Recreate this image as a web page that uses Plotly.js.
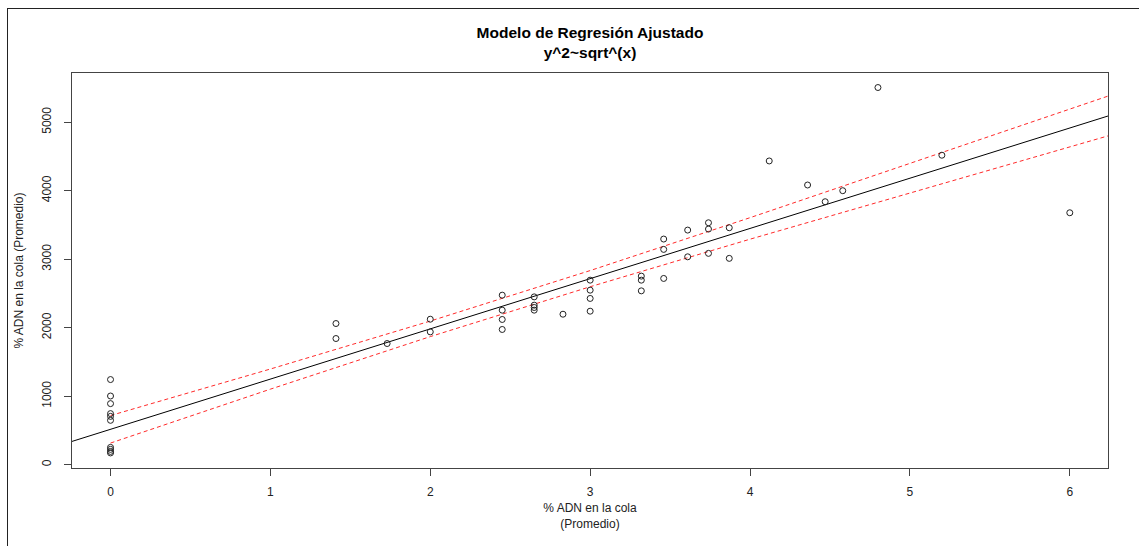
<!DOCTYPE html>
<html>
<head>
<meta charset="utf-8">
<script src="https://cdn.plot.ly/plotly-3.0.1.min.js"></script>
<style>html,body{margin:0;padding:0;background:#fff;}#chart{width:1139px;height:546px;}</style>
</head>
<body>
<div id="chart"></div>
<script>
// Observed points (x = % ADN en la cola, y = transformed response)
const obsX = [0, 0, 0, 0, 0, 0, 0, 0, 0, 0,
  1.41, 1.41, 1.73, 2, 2,
  2.45, 2.45, 2.45, 2.45,
  2.65, 2.65, 2.65, 2.65,
  2.83,
  3, 3, 3, 3,
  3.32, 3.32, 3.32,
  3.46, 3.46, 3.46,
  3.61, 3.61,
  3.74, 3.74, 3.74,
  3.87, 3.87,
  4.12, 4.36, 4.47, 4.58, 4.80, 5.20, 6];
const obsY = [1243, 1003, 892, 746, 706, 648, 253, 224, 194, 172,
  2061, 1842, 1769, 2124, 1939,
  2475, 2256, 2120, 1974,
  2450, 2329, 2295, 2256,
  2197,
  2694, 2548, 2427, 2241,
  2753, 2694, 2538,
  3294, 3143, 2719,
  3425, 3035,
  3532, 3440, 3085,
  3459, 3012,
  4434, 4083, 3839, 4000, 5506, 4518, 3678];

// Fitted regression line
const fitX = [-0.3, 6.3];
const fitY = [297, 5135];

// Confidence band
const bandX = [0, 1, 2, 3, 4, 5, 6, 6.3];
const bandUpper = [718, 1397, 2097, 2834, 3606, 4395, 5190, 5429];
const bandLower = [316, 1103, 1870, 2598, 3292, 3969, 4640, 4841];

// Axis ticks
const xTicks = [0, 1, 2, 3, 4, 5, 6];
const yTicks = [0, 1000, 2000, 3000, 4000, 5000];

const FONT = 'Liberation Sans, Arial, sans-serif';
const red = '#ff2a2a';

const traces = [
  {x: fitX, y: fitY, type: 'scatter', mode: 'lines',
   line: {color: '#000', width: 1}, hoverinfo: 'skip'},
  {x: bandX, y: bandUpper, type: 'scatter', mode: 'lines',
   line: {color: red, width: 1, dash: '4px,3px'}, hoverinfo: 'skip'},
  {x: bandX, y: bandLower, type: 'scatter', mode: 'lines',
   line: {color: red, width: 1, dash: '4px,3px'}, hoverinfo: 'skip'},
  {x: obsX, y: obsY, type: 'scatter', mode: 'markers',
   marker: {symbol: 'circle-open', size: 6, color: '#222', line: {width: 1}}}
];

const layout = {
  width: 1139, height: 546,
  paper_bgcolor: '#fff', plot_bgcolor: '#fff',
  showlegend: false,
  margin: {l: 72, r: 31, t: 73, b: 78, pad: 0},
  font: {family: FONT, color: '#222', size: 12},
  title: {
    text: '<b>Modelo de Regresión Ajustado</b><br><b>y^2~sqrt^(x)</b>',
    font: {family: FONT, size: 15.5, color: '#000'},
    x: 0.5, xref: 'paper', xanchor: 'center',
    y: 1 - 38 / 546, yref: 'container', yanchor: 'middle'
  },
  xaxis: {
    range: [-0.241, 6.239], tickvals: xTicks, ticktext: xTicks.map(String),
    ticks: 'outside', ticklen: 7, tickcolor: '#444', tickwidth: 1,
    ticklabelstandoff: 6,
    showline: true, mirror: true, linecolor: '#444', linewidth: 1,
    showgrid: false, zeroline: false,
    tickfont: {family: FONT, size: 12, color: '#222'},
    title: {text: '% ADN en la cola<br>(Promedio)', font: {family: FONT, size: 12, color: '#222'}, standoff: 5}
  },
  yaxis: {
    range: [-48, 5718], tickvals: yTicks, ticktext: yTicks.map(String),
    ticks: 'outside', ticklen: 7, tickcolor: '#444', tickwidth: 1,
    tickangle: -90, ticklabelstandoff: 8,
    showline: true, mirror: true, linecolor: '#444', linewidth: 1,
    showgrid: false, zeroline: false,
    tickfont: {family: FONT, size: 12, color: '#222'},
    title: {text: '% ADN en la cola (Promedio)', font: {family: FONT, size: 12, color: '#222'}, standoff: 14}
  },
  shapes: [
    {type: 'line', xref: 'paper', yref: 'paper',
     x0: (7.5 - 72) / 1036, x1: (7.5 - 72) / 1036, y0: (468 - 8) / 395, y1: (468 - 546) / 395,
     line: {color: '#222', width: 1}},
    {type: 'line', xref: 'paper', yref: 'paper',
     x0: (7.5 - 72) / 1036, x1: (1139 - 72) / 1036, y0: (468 - 8.5) / 395, y1: (468 - 8.5) / 395,
     line: {color: '#222', width: 1}}
  ]
};

Plotly.newPlot('chart', traces, layout, {displayModeBar: false, staticPlot: true});
</script>
</body>
</html>
